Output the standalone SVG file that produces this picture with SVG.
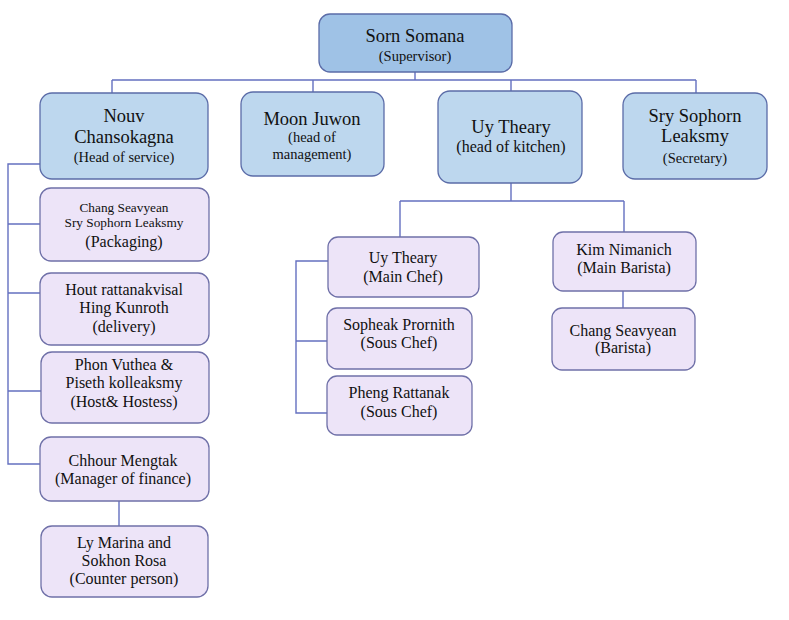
<svg xmlns="http://www.w3.org/2000/svg" width="789" height="620" viewBox="0 0 789 620">
<style>
.top{fill:#9fc2e6;stroke:#5b6ca8;stroke-width:1.3}
.l2{fill:#bdd7ee;stroke:#5b6ca8;stroke-width:1.3}
.l3{fill:#ede4f8;stroke:#6f70a8;stroke-width:1.3}
.c{fill:none;stroke:#6470c0;stroke-width:1.4}
text{font-family:"Liberation Serif","Times New Roman",serif;fill:#111;text-anchor:middle}
.b{font-size:18.5px}
.m{font-size:16px}
.s{font-size:14.5px}
.x{font-size:13.3px}
</style>
<rect width="789" height="620" fill="#fff"/>
<g id="connectors">
<path class="c" d="M415,72V80M112,80H696M112,80V93M313,80V92M511,80V91M696,80V93"/>
<path class="c" d="M40,164H8V464H40M8,224H40M8,293H40M8,391H41M119,501V526"/>
<path class="c" d="M511,183V201M400,201H624M400,201V237M624,201V232M623,291V308"/>
<path class="c" d="M328,261H296V413H327M296,341H327"/>
</g>
<g id="sorn"><rect class="top" x="319" y="14" width="193" height="58" rx="11"/><text class="b" x="415" y="42">Sorn Somana</text><text class="s" x="415" y="61">(Supervisor)</text></g>
<g id="nouv"><rect class="l2" x="40" y="93" width="168" height="86" rx="12"/><text class="b" x="124" y="122">Nouv</text><text class="b" x="124" y="143">Chansokagna</text><text class="s" x="124" y="162">(Head of service)</text></g>
<g id="moon"><rect class="l2" x="241" y="92" width="143" height="84" rx="12"/><text class="b" x="312" y="125">Moon Juwon</text><text class="s" x="312" y="142">(head of</text><text class="s" x="312" y="159">management)</text></g>
<g id="uy"><rect class="l2" x="438" y="91" width="144" height="92" rx="12"/><text class="b" x="511" y="133">Uy Theary</text><text class="m" x="511" y="152">(head of kitchen)</text></g>
<g id="sry"><rect class="l2" x="623" y="93" width="144" height="86" rx="12"/><text class="b" x="695" y="122">Sry Sophorn</text><text class="b" x="695" y="142">Leaksmy</text><text class="s" x="695" y="163">(Secretary)</text></g>
<g id="packaging"><rect class="l3" x="40" y="188" width="169" height="73" rx="11"/><text class="x" x="124" y="212">Chang Seavyean</text><text class="x" x="124" y="227">Sry Sophorn Leaksmy</text><text class="m" x="124" y="247">(Packaging)</text></g>
<g id="delivery"><rect class="l3" x="40" y="273" width="169" height="72" rx="11"/><text class="m" x="124" y="295">Hout rattanakvisal</text><text class="m" x="124" y="313">Hing Kunroth</text><text class="m" x="124" y="332">(delivery)</text></g>
<g id="host"><rect class="l3" x="41" y="352" width="168" height="71" rx="11"/><text class="m" x="124" y="370">Phon Vuthea &amp;</text><text class="m" x="124" y="388">Piseth kolleaksmy</text><text class="m" x="124" y="407">(Host&amp; Hostess)</text></g>
<g id="chhour"><rect class="l3" x="40" y="437" width="169" height="64" rx="11"/><text class="m" x="123" y="466">Chhour Mengtak</text><text class="m" x="123" y="484">(Manager of finance)</text></g>
<g id="ly"><rect class="l3" x="41" y="526" width="167" height="71" rx="11"/><text class="m" x="124" y="548">Ly Marina and</text><text class="m" x="124" y="566">Sokhon Rosa</text><text class="m" x="124" y="584">(Counter person)</text></g>
<g id="mainchef"><rect class="l3" x="328" y="237" width="151" height="60" rx="10"/><text class="m" x="403" y="263">Uy Theary</text><text class="m" x="403" y="282">(Main Chef)</text></g>
<g id="sopheak"><rect class="l3" x="327" y="308" width="145" height="61" rx="10"/><text class="m" x="399" y="330">Sopheak Prornith</text><text class="m" x="399" y="348">(Sous Chef)</text></g>
<g id="pheng"><rect class="l3" x="327" y="376" width="145" height="59" rx="10"/><text class="m" x="399" y="398">Pheng Rattanak</text><text class="m" x="399" y="417">(Sous Chef)</text></g>
<g id="kim"><rect class="l3" x="553" y="232" width="143" height="59" rx="10"/><text class="m" x="624" y="255">Kim Nimanich</text><text class="m" x="624" y="273">(Main Barista)</text></g>
<g id="barista"><rect class="l3" x="552" y="308" width="143" height="62" rx="10"/><text class="m" x="623" y="336">Chang Seavyean</text><text class="m" x="623" y="353">(Barista)</text></g>
</svg>
